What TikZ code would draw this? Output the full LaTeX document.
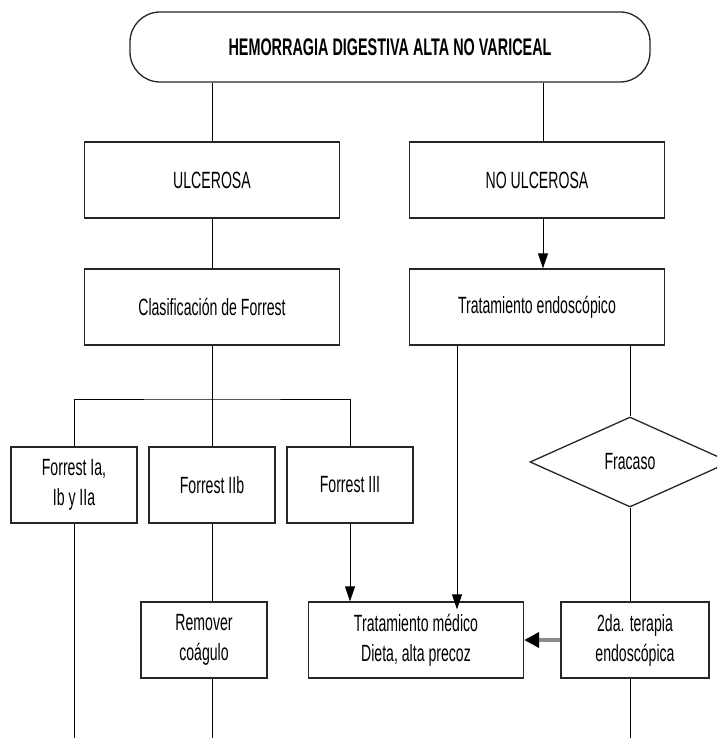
\documentclass[tikz,border=0pt]{standalone}
\usepackage{fontspec}
\setmainfont{Liberation Sans}[FakeStretch=0.6]
\usetikzlibrary{arrows.meta,positioning,shapes.geometric}

\begin{document}
\begin{tikzpicture}[x=1pt,y=-1pt,node distance=138pt]
  \useasboundingbox (0,0) rectangle (717,738);
  \clip (0,0) rectangle (717,738);
  \begin{scope}[every node/.style={rectangle,draw=black!85,line width=1.3pt,
      align=center,inner sep=0pt,minimum height=76pt,
      font=\fontsize{23.5}{30}\selectfont}]
    \node (hda) [rounded corners=30pt,minimum width=520pt,minimum height=70pt,
      font=\fontsize{24}{30}\selectfont\bfseries] at (390,47)
      {HEMORRAGIA DIGESTIVA ALTA NO VARICEAL};
    \node (ulc) [minimum width=255pt] at (212,180) {ULCEROSA};
    \node (noulc) [minimum width=255pt] at (537,180) {NO ULCEROSA};
    \node (clas) [minimum width=255pt] at (212,307) {Clasificación de Forrest};
    \node (endo) [minimum width=255pt] at (537,307) {Tratamiento endoscópico};
    \node (fIa) [minimum width=126pt] at (74,485) {Forrest Ia,\\Ib y IIa};
    \node (fIIb) [minimum width=126pt,right of= fIa] {Forrest IIb};
    \node (fIII) [minimum width=126pt,right of= fIIb] {Forrest III};
    \node (fracaso) [diamond,minimum width=200pt,minimum height=90pt] at (630,462)
      {Fracaso};
    \node (remover) [minimum width=126pt] at (204,640) {Remover\\coágulo};
    \node (tmed) [minimum width=215pt] at (416,640)
      {Tratamiento médico\\Dieta, alta precoz};
    \node (terapia) [minimum width=148pt] at (635,640) {2da. terapia\\endoscópica};
  \end{scope}
  \coordinate (split) at (212,399);
  \coordinate (bottom) at (0,745);
  \begin{scope}[every edge/.style={draw=black,line width=1pt},
      >={Triangle[length=15pt,width=10pt]}]
    \path (hda.south -| ulc.north) edge (ulc.north)
          ([xshift=6pt]noulc.north |- hda.south) edge ([xshift=6pt]noulc.north);
    \path (ulc) edge (clas);
    \path[->] ([xshift=6pt]noulc.south) edge ([xshift=6pt]endo.north);
    \path (clas.south) edge (clas.south |- fIIb.north);
    \draw[line width=1pt] (fIa.north) |- (split) -| (fIII.north);
    \path[->] (fIII.south) edge (fIII.south |- tmed.north);
    \path[->] ([xshift=-80pt]endo.south) edge
      ([xshift=-80pt,yshift=-8pt]endo.south |- tmed.north);
    \path (fracaso.north |- endo.south) edge (fracaso.north);
    \path (fracaso.south) edge (fracaso.south |- terapia.north);
    \path (fIIb.south -| clas.south) edge (clas.south |- remover.north);
    \path (fIa.south) edge (fIa.south |- bottom)
          (remover.south -| clas.south) edge (clas.south |- bottom)
          (terapia.south -| fracaso.south) edge (fracaso.south |- bottom);
    \path[->] (terapia) edge[draw=black!45,line width=3.5pt,
      -{Triangle[length=15pt,width=15pt,color=black]}] (tmed);
  \end{scope}
\end{tikzpicture}
\end{document}
